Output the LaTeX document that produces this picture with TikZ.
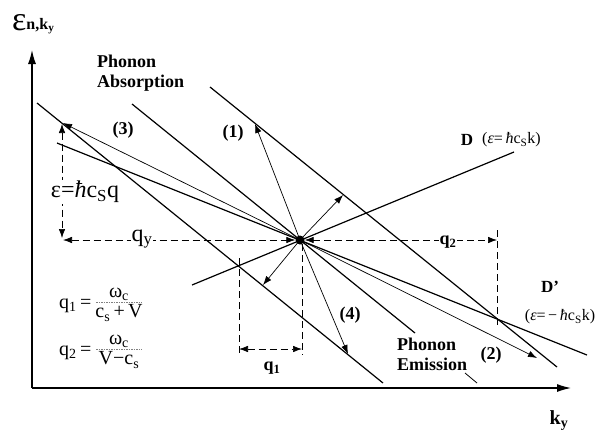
\documentclass[tikz,border=0pt]{standalone}
\usepackage{fontspec}
\setmainfont{Liberation Serif}
\usetikzlibrary{arrows.meta}
\begin{document}
\begin{tikzpicture}[x=1pt,y=-1pt,
  tipL/.style={-{Latex[length=9pt,width=6.5pt]}},
  dtip/.style={{Latex[length=9pt,width=6.5pt]}-{Latex[length=9pt,width=6.5pt]}},
  axis/.style={line width=1.2pt,-{Latex[length=14pt,width=8pt]}},
  band/.style={line width=1.2pt},
  thinarrow/.style={line width=0.7pt,tipL},
  guide/.style={dash pattern=on 7pt off 4pt,line width=0.7pt},
  fracbar/.style={line width=0.5pt,dash pattern=on 1.5pt off 1pt,gray},
  blbl/.style={font=\fontsize{18}{20}\selectfont\bfseries,inner sep=0pt},
  rtxt/.style={font=\fontsize{24}{26}\selectfont,inner sep=1pt,fill=white},
  ftxt/.style={font=\fontsize{20}{22}\selectfont,inner sep=0pt},
  ptxt/.style={font=\fontsize{16}{18}\selectfont,inner sep=0pt},
]
\useasboundingbox (0,0) rectangle (615,429);
% axes
\coordinate (orig) at (32,388);
\coordinate (ytop) at (32,50);
\coordinate (xend) at (571,388);
\draw[axis] (orig) -- (ytop);
\draw[axis] (orig) -- (xend);
\node[anchor=base west,inner sep=0pt] (elab) at (12,30)
  {\fontsize{34}{36}\selectfont ε\fontsize{16}{18}\selectfont\bfseries\raisebox{1pt}{n,k\textsubscript{y}}};
\node[anchor=base,inner sep=0pt,font=\fontsize{20}{22}\selectfont\bfseries] (klab) at (559,424) {k\textsubscript{y}};
% center dot
\node[circle,fill,inner sep=0pt,minimum size=9pt] (O) at (300,240) {};
% band lines
\coordinate (B1) at (210,87);  \coordinate (B2) at (557,367);
\coordinate (C1) at (132,104); \coordinate (C2) at (415,333);
\coordinate (A1) at (37,103);  \coordinate (A2) at (383,383);
\coordinate (D1) at (192,285); \coordinate (D2) at (514,152);
\coordinate (E1) at (57,143);  \coordinate (E2) at (587,355);
\draw[band] (B1) -- (B2);
\draw[band] (C1) -- (C2);
\draw[band] (A1) -- (A2);
\draw[band] (D1) -- (D2);
\draw[band] (E1) -- (E2);
% leader near Phonon Emission
\coordinate (L1) at (465,373); \coordinate (L2) at (477,383);
\draw[line width=0.8pt] (L1) -- (L2);
% dashed guides
\coordinate (vtop) at (62,124); \coordinate (vbot) at (62,238);
\coordinate (hleft) at (63,240);
\coordinate (q2r) at (497,240);
\coordinate (r1) at (497,230); \coordinate (r2) at (497,328);
\coordinate (m1) at (239,258); \coordinate (m2) at (239,355);
\coordinate (c1) at (302,244); \coordinate (c2) at (302,355);
\coordinate (qa) at (239,349); \coordinate (qb) at (302,349);
\draw[guide,dtip] (vtop) -- (vbot);
\draw[guide,dtip] (hleft) -- (O.west);
\draw[guide,dtip] (O.east) -- (q2r);
\draw[guide] (r1) -- (r2);
\draw[guide] (m1) -- (m2);
\draw[guide] (c1) -- (c2);
\draw[guide,dtip] (qa) -- (qb);
% transition arrows
\coordinate (t3) at (63,123);
\coordinate (t2) at (537,358);
\coordinate (t1) at (255,124);
\coordinate (tur) at (343,195);
\coordinate (tll) at (263,285);
\coordinate (t4) at (348,354);
\draw[thinarrow] (O.center) -- (t3);
\draw[thinarrow] (O.center) -- (t2);
\draw[thinarrow] (O.center) -- (t1);
\draw[thinarrow] (O.center) -- (tur);
\draw[thinarrow] (O.center) -- (tll);
\draw[thinarrow] (O.center) -- (t4);
% labels
\node[rtxt] (eps) at (85,192) {ε=\textit{ħ}c\textsubscript{S}q};
\node[rtxt] (qy) at (142,239) {q\textsubscript{y}};
\node[blbl,fill=white,inner sep=1pt] (q2) at (448,242) {q\textsubscript{2}};
\node[blbl] (q1) at (272,368) {q\textsubscript{1}};
\node[blbl,align=left,anchor=west] (abs) at (97,73) {Phonon\\Absorption};
\node[blbl,align=left,anchor=west] (emi) at (397,354) {Phonon\\Emission};
\node[blbl] (n3) at (123,130) {(3)};
\node[blbl] (n1) at (233,133) {(1)};
\node[blbl] (n4) at (350,315) {(4)};
\node[blbl] (n2) at (491,355) {(2)};
\node[blbl,font=\fontsize{17}{19}\selectfont\bfseries] (Dl) at (467,140) {D};
\node[ptxt,anchor=west] (Dt) at (482,140) {(\textit{ε}=\,\textit{ħ}c\textsubscript{S}k)};
\node[blbl,font=\fontsize{17}{19}\selectfont\bfseries] (Dpl) at (550,287) {D'};
\node[ptxt] (Dpt) at (560,317) {(\textit{ε}=\,−\,\textit{ħ}c\textsubscript{S}k)};
% formulas
\node[ftxt,anchor=base west] (f1q) at (59,308) {q\textsubscript{1}\,=};
\node[ftxt] (f1n) at (119,294) {ω\textsubscript{c}};
\node[ftxt] (f1d) at (119,313) {c\textsubscript{s}\,+\,V};
\coordinate (b1l) at (96,302); \coordinate (b1r) at (142,302);
\draw[fracbar] (b1l) -- (b1r);
\node[ftxt,anchor=base west] (f2q) at (59,355) {q\textsubscript{2}\,=};
\node[ftxt] (f2n) at (119,341) {ω\textsubscript{c}};
\node[ftxt] (f2d) at (119,360) {V−c\textsubscript{s}};
\coordinate (b2l) at (96,349); \coordinate (b2r) at (142,349);
\draw[fracbar] (b2l) -- (b2r);
\end{tikzpicture}
\end{document}
